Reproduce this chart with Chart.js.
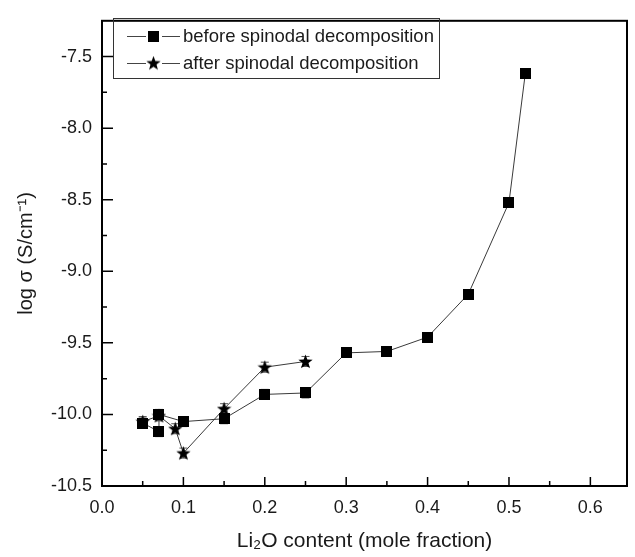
<!DOCTYPE html>
<html>
<head>
<meta charset="utf-8">
<script src="https://cdn.jsdelivr.net/npm/chart.js@4.4.0/dist/chart.umd.min.js"></script>
<style>
html, body { margin: 0; padding: 0; background: #fff; }
</style>
</head>
<body>
<canvas id="c" width="635" height="557"></canvas>
<script>
// data
const beforeX = [0.05, 0.07, 0.07, 0.10, 0.15, 0.20, 0.25, 0.30, 0.35, 0.40, 0.45, 0.50, 0.52];
const beforeY = [-10.06, -10.12, -10.00, -10.05, -10.03, -9.86, -9.85, -9.57, -9.56, -9.46, -9.16, -8.52, -7.62];
const beforeErr = [0.035, 0.035, 0.035, 0.035, 0.035, 0.035, 0.035, 0, 0, 0, 0, 0, 0];

const afterX = [0.05, 0.07, 0.09, 0.10, 0.15, 0.20, 0.25];
const afterY = [-10.05, -10.01, -10.10, -10.27, -9.96, -9.67, -9.63];
const afterErr = [0.035, 0.035, 0.035, 0.035, 0.035, 0.035, 0.035];

const seriesNames = ['before spinodal decomposition', 'after spinodal decomposition'];

const xMajor = [0.0, 0.1, 0.2, 0.3, 0.4, 0.5, 0.6];
const xMinor = [0.05, 0.15, 0.25, 0.35, 0.45, 0.55];
const yMajor = [-10.5, -10.0, -9.5, -9.0, -8.5, -8.0, -7.5];
const yMinor = [-10.25, -9.75, -9.25, -8.75, -8.25, -7.75];

const FONT = "'Liberation Sans', Arial, sans-serif";
const INK = '#1a1a1a';

// marker images
function squareMarker(size) {
    const c = document.createElement('canvas');
    c.width = size; c.height = size;
    const g = c.getContext('2d');
    g.fillStyle = '#000';
    g.fillRect(0, 0, size, size);
    return c;
}
function starMarker(size) {
    const c = document.createElement('canvas');
    c.width = size; c.height = size;
    const g = c.getContext('2d');
    const cx = size / 2, cy = size / 2 + 0.6, R = size / 2, r = R * 0.42;
    g.beginPath();
    for (let i = 0; i < 10; i++) {
        const a = -Math.PI / 2 + i * Math.PI / 5;
        const rr = i % 2 === 0 ? R : r;
        g.lineTo(cx + rr * Math.cos(a), cy + rr * Math.sin(a));
    }
    g.closePath();
    g.fillStyle = '#000';
    g.fill();
    return c;
}
const sqImg = squareMarker(11);
const stImg = starMarker(15);

// error bars behind the markers
const errorBars = {
    id: 'errorBars',
    beforeDatasetsDraw(chart) {
        const ctx = chart.ctx, xs = chart.scales.x, ys = chart.scales.y;
        ctx.save();
        ctx.strokeStyle = '#555';
        ctx.lineWidth = 1;
        chart.data.datasets.forEach(ds => {
            (ds.errors || []).forEach((e, i) => {
                if (!e) return;
                const p = ds.data[i];
                const px = xs.getPixelForValue(p.x);
                const y1 = ys.getPixelForValue(p.y + e);
                const y2 = ys.getPixelForValue(p.y - e);
                ctx.beginPath();
                ctx.moveTo(px, y1); ctx.lineTo(px, y2);
                ctx.moveTo(px - 4, y1); ctx.lineTo(px + 4, y1);
                ctx.moveTo(px - 4, y2); ctx.lineTo(px + 4, y2);
                ctx.stroke();
            });
        });
        ctx.restore();
    }
};

// frame + inward ticks
const frame = {
    id: 'frame',
    afterDraw(chart) {
        const { ctx, chartArea: a, scales: { x, y } } = chart;
        ctx.save();
        ctx.strokeStyle = '#000';
        ctx.lineWidth = 2;
        ctx.strokeRect(a.left, a.top, a.right - a.left, a.bottom - a.top);
        ctx.lineWidth = 1.5;
        ctx.beginPath();
        xMajor.forEach(v => { const px = x.getPixelForValue(v); ctx.moveTo(px, a.bottom); ctx.lineTo(px, a.bottom - 9); });
        xMinor.forEach(v => { const px = x.getPixelForValue(v); ctx.moveTo(px, a.bottom); ctx.lineTo(px, a.bottom - 5); });
        yMajor.forEach(v => { const py = y.getPixelForValue(v); ctx.moveTo(a.left, py); ctx.lineTo(a.left + 11, py); });
        yMinor.forEach(v => { const py = y.getPixelForValue(v); ctx.moveTo(a.left, py); ctx.lineTo(a.left + 5, py); });
        ctx.stroke();
        ctx.restore();
    }
};

// boxed legend, line through marker like the original
const boxLegend = {
    id: 'boxLegend',
    afterDraw(chart) {
        const ctx = chart.ctx;
        const bx = 113, by = 18, bw = 326, bh = 60;
        ctx.save();
        ctx.strokeStyle = '#333';
        ctx.lineWidth = 1;
        ctx.strokeRect(bx + 0.5, by + 0.5, bw, bh);
        const imgs = [sqImg, stImg];
        const rows = [36, 63];
        ctx.font = '18.5px ' + FONT;
        ctx.textBaseline = 'middle';
        rows.forEach((ry, i) => {
            ctx.strokeStyle = '#444';
            ctx.beginPath();
            ctx.moveTo(127, ry + 0.5); ctx.lineTo(180, ry + 0.5);
            ctx.stroke();
            const im = imgs[i];
            ctx.fillStyle = '#fff';
            ctx.fillRect(146, ry - 8, 16, 16);
            ctx.drawImage(im, 153.5 - im.width / 2, ry - im.height / 2);
            ctx.fillStyle = INK;
            ctx.fillText(seriesNames[i], 183, ry + 1);
        });
        ctx.restore();
    }
};

Chart.defaults.font.family = FONT;
Chart.defaults.color = INK;

new Chart(document.getElementById('c'), {
    type: 'scatter',
    data: {
        datasets: [
            {
                label: seriesNames[0],
                data: beforeX.map((x, i) => ({ x: x, y: beforeY[i] })),
                errors: beforeErr,
                showLine: true,
                borderColor: '#3a3a3a',
                borderWidth: 1,
                pointStyle: sqImg,
                pointRadius: 6
            },
            {
                label: seriesNames[1],
                data: afterX.map((x, i) => ({ x: x, y: afterY[i] })),
                errors: afterErr,
                showLine: true,
                borderColor: '#3a3a3a',
                borderWidth: 1,
                pointStyle: stImg,
                pointRadius: 7
            }
        ]
    },
    options: {
        responsive: false,
        animation: false,
        devicePixelRatio: 1,
        layout: { padding: { left: 0, top: 10, right: 7, bottom: 0 } },
        plugins: { legend: { display: false }, tooltip: { enabled: false } },
        scales: {
            x: {
                type: 'linear',
                min: 0,
                max: 0.645,
                afterBuildTicks: s => { s.ticks = xMajor.map(v => ({ value: v })); },
                afterFit: s => { s.height = 71; },
                grid: { display: false, drawTicks: false },
                border: { display: false },
                ticks: { padding: 11, color: INK, font: { size: 18 }, callback: v => v.toFixed(1) },
                title: { display: true, text: 'Li₂O content (mole fraction)', color: INK, font: { size: 21 }, padding: { top: 0, bottom: 3 } }
            },
            y: {
                type: 'linear',
                min: -10.5,
                max: -7.25,
                afterBuildTicks: s => { s.ticks = yMajor.map(v => ({ value: v })); },
                afterFit: s => { s.width = 102; },
                grid: { display: false, drawTicks: false },
                border: { display: false },
                ticks: { padding: 10, color: INK, font: { size: 18 }, callback: v => v.toFixed(1) },
                title: { display: true, text: 'log σ (S/cm⁻¹)', color: INK, font: { size: 20 }, padding: { top: 14, bottom: 0 } }
            }
        }
    },
    plugins: [errorBars, frame, boxLegend]
});
</script>
</body>
</html>
